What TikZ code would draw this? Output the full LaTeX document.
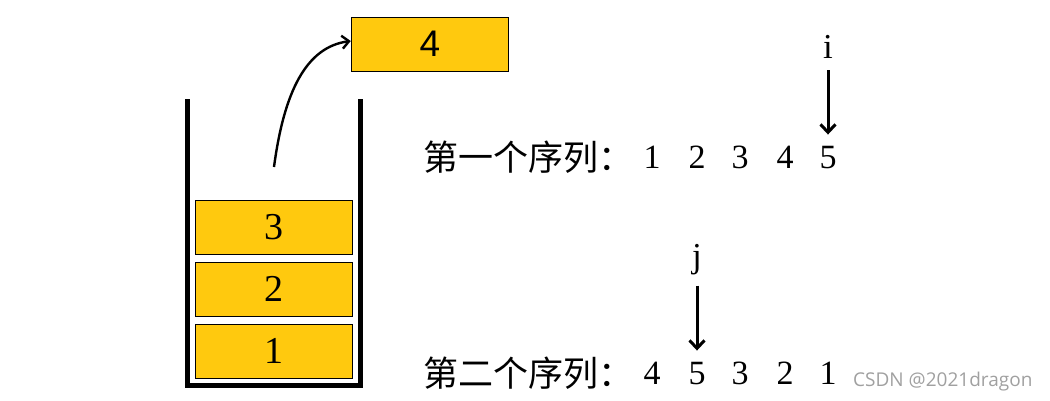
\documentclass[tikz,border=0pt]{standalone}
\usepackage{fontspec}
\setmainfont{Liberation Serif}
\newfontfamily\cjk{Noto Sans CJK SC}
\newfontfamily\arialf{Liberation Sans}
\newfontfamily\wmfont{Open Sans}
\usetikzlibrary{arrows.meta}
\definecolor{boxyellow}{RGB}{255,201,14}
\definecolor{wmgray}{RGB}{160,160,160}
\tikzset{
  stackbox/.style={draw=black, line width=1pt, fill=boxyellow, minimum width=157.5pt, minimum height=54pt, inner sep=0pt, font=\fontsize{38}{44}\selectfont},
  seqdigit/.style={anchor=base, inner sep=0pt, font=\fontsize{34}{40}\selectfont},
  ptr/.style={anchor=base, inner sep=0pt, font=\fontsize{35}{40}\selectfont},
  seqlabel/.style={anchor=base west, inner sep=0pt, font=\cjk\fontsize{35}{40}\selectfont},
  arr/.style={line width=3pt, -{Straight Barb[length=8pt,width=15pt]}},
  curvearr/.style={line width=2.4pt, -{Straight Barb[length=7pt,width=13pt]}},
  wall/.style={line width=4.5pt, line join=miter},
}
\begin{document}
\begin{tikzpicture}[x=1pt,y=-1pt]
\useasboundingbox (0,0) rectangle (1050,400);
% stack container
\coordinate (tl) at (187.5,99);
\coordinate (bl) at (187.5,385.5);
\coordinate (br) at (360.5,385.5);
\coordinate (tr) at (360.5,99);
\draw[wall] (tl) -- (bl) -- (br) -- (tr);
% stack boxes
\node[stackbox] (b1) at (274,351) {1};
\node[stackbox] (b2) at (274,289) {2};
\node[stackbox] (b3) at (274,227) {3};
\node[stackbox, font=\arialf\fontsize{37}{42}\selectfont] (b4) at (430,44) {4};
% pop arrow
\coordinate (popstart) at (274,167);
\draw[curvearr] (popstart) .. controls (284,92) and (306,47) .. ([yshift=3pt]b4.west);
% first sequence
\node[seqlabel] (s1) at (423,170) {第一个序列：};
\node[seqdigit] (d11) at (652,168) {1};
\node[seqdigit] (d12) at (697,168) {2};
\node[seqdigit] (d13) at (740,168) {3};
\node[seqdigit] (d14) at (785,168) {4};
\node[seqdigit] (d15) at (828,168) {5};
\node[ptr] (i) at (828,58) {i};
\draw[arr, shorten <=12pt, shorten >=11pt] (i) -- (d15);
% second sequence
\node[seqlabel] (s2) at (423,386) {第二个序列：};
\node[seqdigit] (d21) at (652,384) {4};
\node[seqdigit] (d22) at (697,384) {5};
\node[seqdigit] (d23) at (740,384) {3};
\node[seqdigit] (d24) at (785,384) {2};
\node[seqdigit] (d25) at (828,384) {1};
\node[ptr] (j) at (697,267) {j};
\draw[arr, shorten <=11pt, shorten >=11pt] (j) -- (d22);
% watermark
\node[anchor=base west, inner sep=0pt, text=wmgray, font=\wmfont\fontsize{19}{22}\selectfont] (wm) at (853,386) {CSDN @2021dragon};
\end{tikzpicture}
\end{document}
